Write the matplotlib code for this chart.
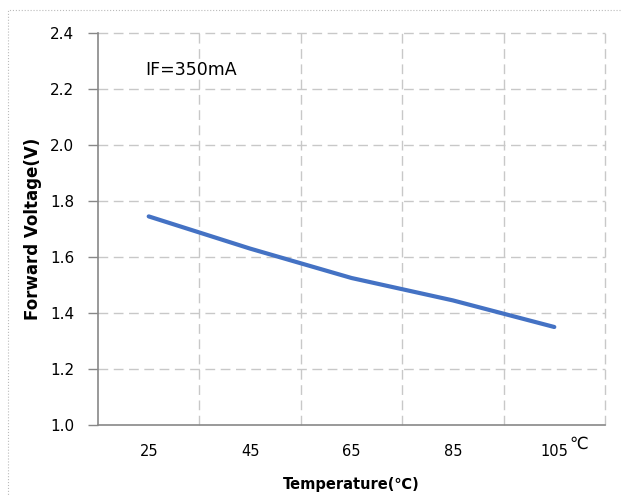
import matplotlib.pyplot as plt
from matplotlib.patches import Rectangle
import matplotlib.transforms as mtransforms
import numpy as np

temperatures = ['25', '45', '65', '85', '105']
forward_voltage = [1.745, 1.63, 1.525, 1.445, 1.35]
y_ticks = [1.0, 1.2, 1.4, 1.6, 1.8, 2.0, 2.2, 2.4]

plt.rcParams['font.family'] = ['DejaVu Sans', 'Noto Sans CJK SC']

fig = plt.figure(figsize=(6.22, 4.96), dpi=100)
W, H = 622, 496
ax = fig.add_axes([98 / W, 1 - 425 / H, (605 - 98) / W, (425 - 33) / H])

x = np.arange(len(temperatures))
ax.plot(x, forward_voltage, color='#4472C4', linewidth=3, solid_capstyle='round', zorder=3)

ax.set_xlim(-0.5, len(temperatures) - 0.5)
ax.set_ylim(1.0, 2.4)
ax.set_yticks(y_ticks)
ax.set_yticklabels([f'{v:.1f}' for v in y_ticks], fontsize=11)
ax.set_xticks(x)
ax.set_xticklabels(temperatures, fontsize=10.5)
ax.tick_params(axis='x', length=0, pad=14)
ax.tick_params(axis='y', length=7, width=1, color='#888888', pad=10)

grid_kw = dict(color='#c8c8c8', linewidth=1, linestyle=(0, (7, 4)), zorder=1, clip_on=False)
for v in y_ticks[1:]:
    ax.axhline(v, **grid_kw)
for b in np.arange(0.5, len(temperatures), 1.0):
    ax.axvline(b, **grid_kw)

for s in ['top', 'right']:
    ax.spines[s].set_visible(False)
for s in ['left', 'bottom']:
    ax.spines[s].set_color('#888888')
    ax.spines[s].set_linewidth(1.2)

ax.text(0.093, 0.906, 'IF=350mA', transform=ax.transAxes, fontsize=12.5, va='center')
trans = mtransforms.blended_transform_factory(ax.transData, ax.transAxes)
ax.text(4.15, -0.047, '℃', transform=trans, fontsize=12, ha='left', va='center', clip_on=False)

ax.set_xlabel('Temperature(℃)', fontsize=10.5, fontweight='bold', labelpad=13)
ax.set_ylabel('Forward Voltage(V)', fontsize=12, fontweight='bold', labelpad=6)

fig.patches.append(Rectangle((8 / W, -0.1), 1.2, 1 - 10 / H + 0.1, transform=fig.transFigure,
                             fill=False, edgecolor='#bbbbbb', linewidth=0.8, linestyle=':'))

fig.savefig('out.png', dpi=100)
